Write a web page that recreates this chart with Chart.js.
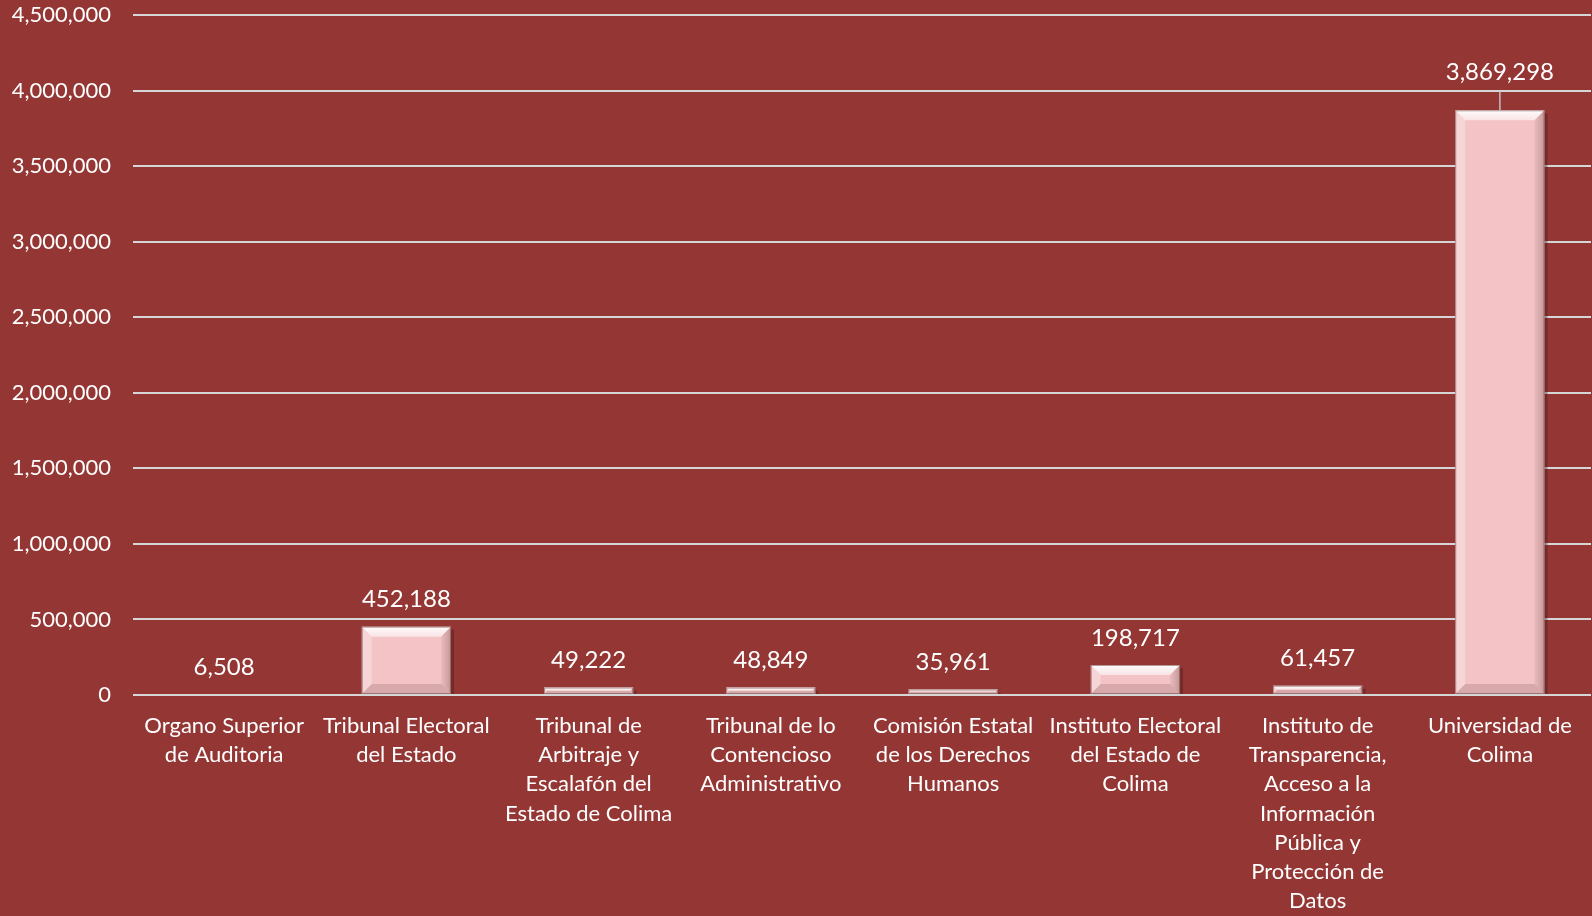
<!DOCTYPE html>
<html>
<head>
<meta charset="utf-8">
<script src="https://cdn.jsdelivr.net/npm/chart.js@4/dist/chart.umd.min.js"></script>
<style>
html,body{margin:0;padding:0;background:#943634;}
#wrap{width:1592px;height:916px;position:relative;}
</style>
</head>
<body>
<div id="wrap"><canvas id="c" width="1592" height="916"></canvas></div>
<script>
const categories = [
  ["Organo Superior","de Auditoria"],
  ["Tribunal Electoral","del Estado"],
  ["Tribunal de","Arbitraje y","Escalafón del","Estado de Colima"],
  ["Tribunal de lo","Contencioso","Administrativo"],
  ["Comisión Estatal","de los Derechos","Humanos"],
  ["Instituto Electoral","del Estado de","Colima"],
  ["Instituto de","Transparencia,","Acceso a la","Información","Pública y","Protección de","Datos"],
  ["Universidad de","Colima"]
];
const values = [6508, 452188, 49222, 48849, 35961, 198717, 61457, 3869298];
const yTicks = [0, 500000, 1000000, 1500000, 2000000, 2500000, 3000000, 3500000, 4000000, 4500000];

const fmt = v => v.toLocaleString('en-US');
const FONT = 'Lato';

const bevelPlugin = {
  id: 'bevel',
  beforeDatasetsDraw(chart) {
    const ctx = chart.ctx;
    const meta = chart.getDatasetMeta(0);
    ctx.save();
    meta.data.forEach((bar) => {
      const p = bar.getProps(['x','y','base','width'], true);
      const l = p.x - p.width/2, t = p.y, h = p.base - p.y;
      if (h < 2) return;
      ctx.fillStyle = 'rgba(60,20,20,0.35)';
      ctx.fillRect(l + 3, t + 3, p.width, h - 3);
    });
    ctx.restore();
  },
  afterDatasetsDraw(chart) {
    const ctx = chart.ctx;
    const meta = chart.getDatasetMeta(0);
    meta.data.forEach((bar) => {
      const p = bar.getProps(['x','y','base','width'], true);
      const l = p.x - p.width/2, r = p.x + p.width/2, t = p.y, b = p.base;
      const h = b - t;
      if (h < 1.5) return;
      const bv = Math.min(10, h/2);
      ctx.save();
      let g = ctx.createLinearGradient(0, t, 0, t + bv);
      g.addColorStop(0, 'rgba(255,255,255,0.95)');
      g.addColorStop(1, 'rgba(255,255,255,0.55)');
      ctx.beginPath();
      ctx.moveTo(l, t); ctx.lineTo(r, t); ctx.lineTo(r-bv, t+bv); ctx.lineTo(l+bv, t+bv); ctx.closePath();
      ctx.fillStyle = g; ctx.fill();
      ctx.beginPath();
      ctx.moveTo(l, t); ctx.lineTo(l+bv, t+bv); ctx.lineTo(l+bv, b-bv); ctx.lineTo(l, b); ctx.closePath();
      ctx.fillStyle = 'rgba(255,255,255,0.30)'; ctx.fill();
      g = ctx.createLinearGradient(r - bv, 0, r, 0);
      g.addColorStop(0, 'rgba(150,110,110,0.10)');
      g.addColorStop(1, 'rgba(120,80,80,0.40)');
      ctx.beginPath();
      ctx.moveTo(r, t); ctx.lineTo(r-bv, t+bv); ctx.lineTo(r-bv, b-bv); ctx.lineTo(r, b); ctx.closePath();
      ctx.fillStyle = g; ctx.fill();
      ctx.beginPath();
      ctx.moveTo(l, b); ctx.lineTo(l+bv, b-bv); ctx.lineTo(r-bv, b-bv); ctx.lineTo(r, b); ctx.closePath();
      ctx.fillStyle = 'rgba(130,90,90,0.25)'; ctx.fill();
      ctx.strokeStyle = 'rgba(110,70,70,0.55)';
      ctx.lineWidth = 1;
      ctx.strokeRect(l+0.5, t+0.5, p.width-1, h-1);
      ctx.restore();
    });
  }
};

const labelPlugin = {
  id: 'vlabels',
  afterDatasetsDraw(chart, args, opts) {
    const ctx = chart.ctx;
    const meta = chart.getDatasetMeta(0);
    const ys = chart.scales.y;
    ctx.save();
    ctx.font = '24px ' + FONT;
    ctx.fillStyle = '#ffffff';
    ctx.textAlign = 'center';
    ctx.textBaseline = 'middle';
    meta.data.forEach((bar, i) => {
      const p = bar.getProps(['x','y'], true);
      let ly = p.y - 27;
      if (i === opts.leaderIndex) {
        ly = ys.getPixelForValue(opts.leaderValue);
        ctx.strokeStyle = '#c0c0c0';
        ctx.lineWidth = 1.5;
        ctx.beginPath();
        ctx.moveTo(p.x, ly + 19);
        ctx.lineTo(p.x, p.y);
        ctx.stroke();
      }
      ctx.fillText(fmt(values[i]), p.x, ly);
    });
    ctx.restore();
  }
};

new Chart(document.getElementById('c'), {
  type: 'bar',
  data: {
    labels: categories,
    datasets: [{
      data: values,
      backgroundColor: '#f3c3c6',
      borderWidth: 0,
      categoryPercentage: 1.0,
      barPercentage: 0.49
    }]
  },
  options: {
    responsive: false,
    animation: false,
    layout: { padding: { left: 0, right: 1, top: 15, bottom: 0 } },
    plugins: {
      legend: { display: false },
      tooltip: { enabled: false },
      vlabels: { leaderIndex: 7, leaderValue: 4120000 }
    },
    scales: {
      x: {
        afterFit(axis) { axis.height = 221; axis.paddingTop = 0; axis.paddingBottom = 0; },
        grid: { display: false, drawTicks: false },
        border: { display: false },
        ticks: {
          color: '#ffffff',
          font: { family: FONT, size: 22, lineHeight: 1.33 },
          maxRotation: 0, minRotation: 0, autoSkip: false,
          padding: 16
        }
      },
      y: {
        min: 0, max: 4500000,
        afterBuildTicks(axis) { axis.ticks = yTicks.map(v => ({ value: v })); },
        afterFit(axis) { axis.width = 133; axis.paddingTop = 0; axis.paddingBottom = 0; },
        grid: { color: '#d6d6d6', lineWidth: 2, drawTicks: false },
        border: { display: false },
        ticks: {
          color: '#ffffff',
          font: { family: FONT, size: 22 },
          padding: 22,
          callback: v => fmt(v)
        }
      }
    }
  },
  plugins: [bevelPlugin, labelPlugin]
});
</script>
</body>
</html>
